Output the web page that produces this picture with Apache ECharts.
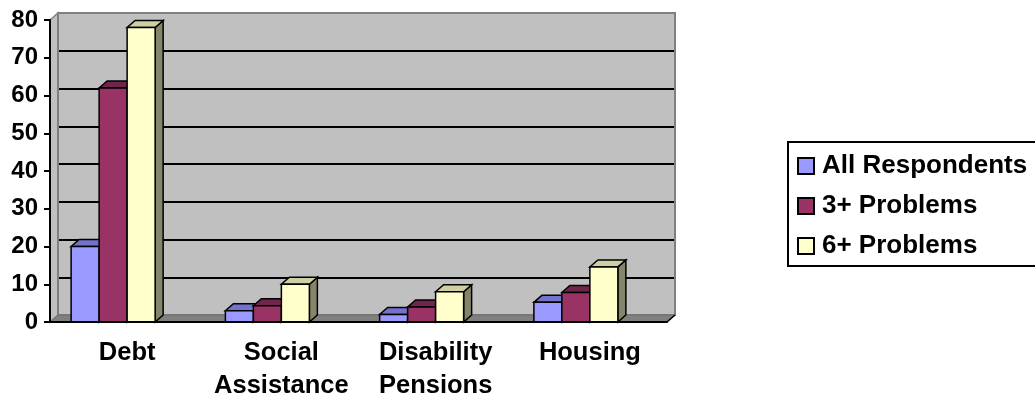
<!DOCTYPE html>
<html>
<head>
<meta charset="utf-8">
<script src="https://cdn.jsdelivr.net/npm/echarts@6/dist/echarts.min.js"></script>
<style>
  html, body { margin: 0; padding: 0; background: #ffffff; }
  #chart { width: 1035px; height: 398px; }
</style>
</head>
<body>
<div id="chart"></div>
<script>
// Categories and values (percent of respondents)
const categories = ['Debt', 'Social\nAssistance', 'Disability\nPensions', 'Housing'];
const seriesNames = ['All Respondents', '3+ Problems', '6+ Problems'];
const allRespondents = [20, 3, 2, 5.2];
const threePlusProblems = [62, 4.3, 4, 7.8];
const sixPlusProblems = [78, 10, 8, 14.6];
const yMin = 0, yMax = 80, yStep = 10;

// Face colours for each series: front, top, side
const palette = [
  { front: '#9999FF', top: '#7373CC', side: '#52528A' },
  { front: '#993366', top: '#70264B', side: '#521B37' },
  { front: '#FFFFCC', top: '#CFCFA3', side: '#85856A' }
];

// Oblique depth of the 3-D box (pixels right / up)
const DEPTH_X = 8, DEPTH_Y = -7;
const FONT = '"Liberation Sans", Arial, sans-serif';

function barRenderer(seriesIdx) {
  return function (params, api) {
    const cat = api.value(0);
    const val = api.value(1);
    const topPt = api.coord([cat, val]);
    const basePt = api.coord([cat, 0]);
    const catW = api.size([1, 0])[0];
    const bw = catW * 0.1815;
    const groupLeft = topPt[0] - catW * 0.363;
    const x0 = groupLeft + seriesIdx * bw;
    const x1 = x0 + bw;
    const yt = topPt[1], yb = basePt[1];
    const c = palette[seriesIdx];
    const stroke = { stroke: '#000', lineWidth: 1.5, lineJoin: 'miter' };
    return {
      type: 'group',
      children: [
        { type: 'polygon', shape: { points: [[x1, yt], [x1 + DEPTH_X, yt + DEPTH_Y], [x1 + DEPTH_X, yb + DEPTH_Y], [x1, yb]] },
          style: Object.assign({ fill: c.side }, stroke) },
        { type: 'polygon', shape: { points: [[x0, yt], [x1, yt], [x1 + DEPTH_X, yt + DEPTH_Y], [x0 + DEPTH_X, yt + DEPTH_Y]] },
          style: Object.assign({ fill: c.top }, stroke) },
        { type: 'rect', shape: { x: x0, y: yt, width: bw, height: yb - yt },
          style: Object.assign({ fill: c.front }, stroke) }
      ]
    };
  };
}

// Side wall, floor and back-wall outline of the plot box
function roomRenderer(params, api) {
  const cs = params.coordSys;
  const x = cs.x, y = cs.y, w = cs.width, h = cs.height;
  return {
    type: 'group',
    children: [
      { type: 'polygon', shape: { points: [[x, y + h], [x, y], [x + DEPTH_X, y + DEPTH_Y], [x + DEPTH_X, y + h + DEPTH_Y]] },
        style: { fill: '#C0C0C0', stroke: '#808080', lineWidth: 1.5 } },
      { type: 'rect', shape: { x: x + DEPTH_X, y: y + DEPTH_Y, width: w, height: h },
        style: { fill: null, stroke: '#808080', lineWidth: 2 } },
      { type: 'polygon', shape: { points: [[x, y + h], [x + w, y + h], [x + w + DEPTH_X, y + h + DEPTH_Y], [x + DEPTH_X, y + h + DEPTH_Y]] },
        style: { fill: '#808080', stroke: '#6E6E6E', lineWidth: 1 } },
      { type: 'line', shape: { x1: x + w, y1: y + h, x2: x + w + DEPTH_X, y2: y + h + DEPTH_Y },
        style: { stroke: '#000', lineWidth: 1.5 } }
    ]
  };
}

const seriesData = [allRespondents, threePlusProblems, sixPlusProblems];

const chart = echarts.init(document.getElementById('chart'), null, { renderer: 'canvas' });

const gridLeft = 50, gridTop = 20, gridW = 617, gridH = 302;

const option = {
  backgroundColor: '#ffffff',
  animation: false,
  textStyle: { fontFamily: FONT },
  grid: [
    { left: gridLeft, top: gridTop, width: gridW, height: gridH, containLabel: false, outerBoundsMode: 'none' },
    { left: gridLeft + DEPTH_X, top: gridTop + DEPTH_Y, width: gridW, height: gridH, containLabel: false, outerBoundsMode: 'none',
      show: true, backgroundColor: '#C0C0C0', borderWidth: 0 }
  ],
  xAxis: [
    {
      type: 'category', gridIndex: 0, data: categories, z: 5,
      axisLine: { lineStyle: { color: '#000', width: 2 } },
      axisTick: { length: 6, lineStyle: { color: '#000', width: 2 } },
      axisLabel: { color: '#000', fontFamily: FONT, fontWeight: 'bold', fontSize: 25.5, lineHeight: 33,
                   margin: 14, interval: 0, hideOverlap: false, align: 'center' }
    },
    { type: 'category', gridIndex: 1, data: categories, show: false }
  ],
  yAxis: [
    {
      type: 'value', gridIndex: 0, min: yMin, max: yMax, interval: yStep, z: 5,
      axisLine: { show: true, lineStyle: { color: '#000', width: 2 } },
      axisTick: { show: true, length: 6, lineStyle: { color: '#000', width: 2 } },
      splitLine: { show: false },
      axisLabel: { color: '#000', fontFamily: FONT, fontWeight: 'bold', fontSize: 24, margin: 12 }
    },
    {
      type: 'value', gridIndex: 1, min: yMin, max: yMax, interval: yStep,
      axisLine: { show: false }, axisTick: { show: false }, axisLabel: { show: false },
      splitLine: { show: true, lineStyle: { color: '#000', width: 2 } }
    }
  ],
  legend: {
    orient: 'vertical',
    left: 788, top: 142,
    padding: [11, 60, 7, 9],
    itemWidth: 16, itemHeight: 16, itemGap: 14,
    icon: 'rect',
    borderColor: '#000', borderWidth: 2, backgroundColor: '#fff',
    itemStyle: { borderColor: '#000', borderWidth: 2 },
    textStyle: { color: '#000', fontFamily: FONT, fontWeight: 'bold', fontSize: 26, padding: [0, 0, 0, 3] },
    data: seriesNames
  },
  series: [
    {
      type: 'custom', name: '_room', xAxisIndex: 0, yAxisIndex: 0, z: 1,
      silent: true, renderItem: roomRenderer, data: [[0, 0]]
    }
  ].concat(seriesNames.map(function (name, i) {
    return {
      type: 'custom', name: name, xAxisIndex: 0, yAxisIndex: 0, z: 2 + i,
      itemStyle: { color: palette[i].front },
      renderItem: barRenderer(i),
      data: seriesData[i].map(function (v, k) { return [k, v]; })
    };
  }))
};

chart.setOption(option);
</script>
</body>
</html>
